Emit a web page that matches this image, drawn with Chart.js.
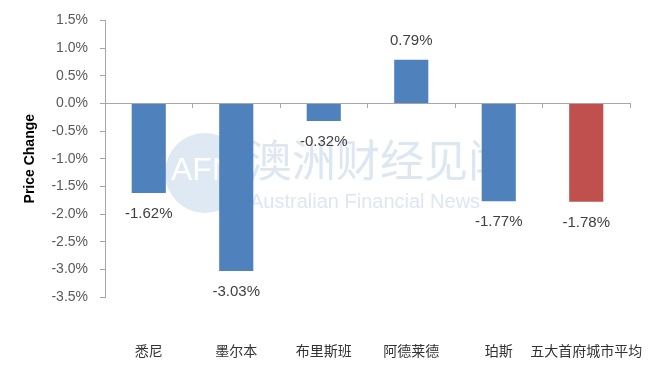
<!DOCTYPE html>
<html>
<head>
	<meta charset="utf-8">
	<title>Price Change</title>
	<script src="https://cdn.jsdelivr.net/npm/chart.js@4.4.1/dist/chart.umd.min.js"></script>
	<style>
		html, body { margin: 0; padding: 0; background: #fff; }
		#wrap { width: 663px; height: 371px; }
	</style>
</head>
<body>
<div id="wrap"><canvas id="chart1" width="663" height="371"></canvas></div>
<script>
	// data
	var cities = ['悉尼', '墨尔本', '布里斯班', '阿德莱德', '珀斯', '五大首府城市平均'];
	var changes = [-1.62, -3.03, -0.32, 0.79, -1.77, -1.78];
	var barColors = ['#4F81BD', '#4F81BD', '#4F81BD', '#4F81BD', '#4F81BD', '#C0504D'];
	var yTitle = 'Price Change';
	var watermarkCn = '澳洲财经见闻';
	var watermarkEn = 'Australian Financial News';
	var watermarkLogo = 'AFN';

	var font = '"Liberation Sans", Arial, sans-serif';
	var cjk = '"Noto Sans CJK SC", "Noto Sans", sans-serif';

	// light watermark behind the bars
	var watermark = {
		id: 'watermark',
		beforeDatasetsDraw: function(chart) {
			var c = chart.ctx;
			c.save();
			c.fillStyle = '#dfe9f4';
			c.beginPath();
			c.arc(205, 173, 40, 0, Math.PI * 2);
			c.fill();
			c.fillStyle = '#ffffff';
			c.font = '32px ' + font;
			c.textAlign = 'center';
			c.textBaseline = 'middle';
			c.fillText(watermarkLogo, 203, 171);
			c.fillStyle = '#dde7f2';
			c.textAlign = 'left';
			c.font = '44px ' + cjk;
			c.fillText(watermarkCn, 248, 160);
			c.font = '20px ' + font;
			c.fillText(watermarkEn, 250, 202);
			c.restore();
		}
	};

	// value labels under negative bars, above positive ones
	var valueLabels = {
		id: 'valueLabels',
		afterDatasetsDraw: function(chart) {
			var c = chart.ctx;
			var meta = chart.getDatasetMeta(0);
			c.save();
			c.font = '15px ' + font;
			c.fillStyle = '#404040';
			c.textAlign = 'center';
			c.textBaseline = 'middle';
			meta.data.forEach(function(bar, i) {
				var v = changes[i];
				var y = v < 0 ? bar.y + 21 : bar.y - 19;
				c.fillText(v.toFixed(2) + '%', bar.x, y);
			});
			c.restore();
		}
	};

	var ctx = document.getElementById('chart1');
	var chart = new Chart(ctx, {
		type: 'bar',
		data: {
			labels: cities,
			datasets: [{
				data: changes,
				backgroundColor: barColors,
				borderWidth: 0,
				categoryPercentage: 1,
				barPercentage: 0.39
			}]
		},
		options: {
			responsive: false,
			animation: false,
			layout: { padding: { left: 20, right: 33, top: 15, bottom: 8 } },
			plugins: { legend: { display: false }, tooltip: { enabled: false } },
			scales: {
				x: {
					position: { y: 0 },
					offset: true,
					ticks: { display: false },
					grid: { display: true, drawOnChartArea: false, tickLength: 4, color: '#a6a6a6', offset: true },
					border: { display: true, color: '#a6a6a6' }
				},
				x2: {
					type: 'category',
					labels: cities,
					position: 'bottom',
					offset: true,
					grid: { display: false },
					border: { display: false },
					ticks: { padding: 37, color: '#333333', font: { family: cjk, size: 14 }, maxRotation: 0, autoSkip: false },
					afterFit: function(s) {
						s.height = 371 - 297 - 8;
						s.paddingLeft = 0;
						s.paddingRight = 0;
					}
				},
				y: {
					min: -3.5,
					max: 1.5,
					ticks: {
						stepSize: 0.5,
						padding: 12,
						color: '#595959',
						font: { family: font, size: 14 },
						callback: function(v) { return v.toFixed(1) + '%'; }
					},
					grid: { display: true, drawOnChartArea: false, tickLength: 5, color: '#a6a6a6' },
					border: { display: true, color: '#a6a6a6' },
					title: {
						display: true,
						text: yTitle,
						color: '#000',
						font: { family: font, size: 14, weight: 'bold' },
						padding: { top: 2, bottom: 0 }
					},
					afterFit: function(s) { s.width = 105 - 20; }
				}
			}
		},
		plugins: [watermark, valueLabels]
	});
</script>
</body>
</html>
